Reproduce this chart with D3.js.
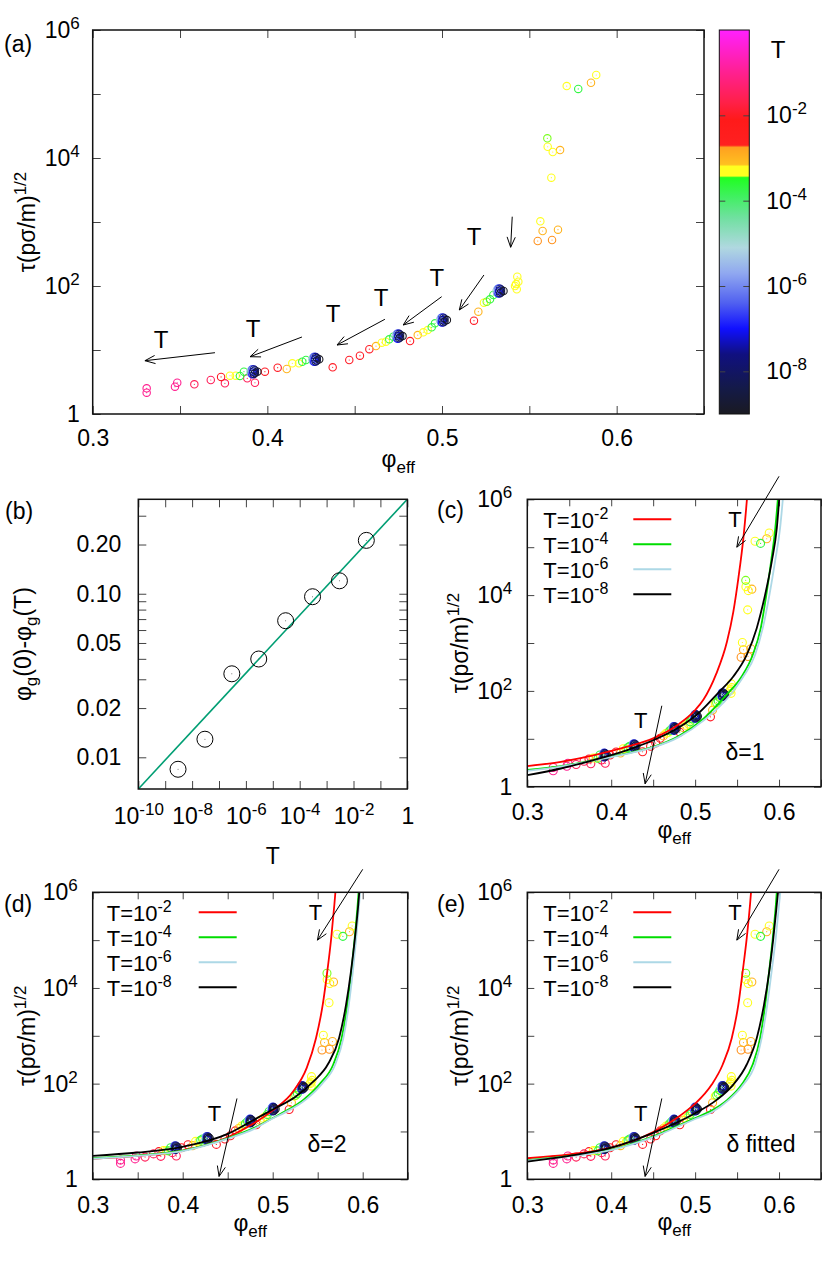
<!DOCTYPE html>
<html><head><meta charset="utf-8">
<script src="https://cdn.jsdelivr.net/npm/d3@7"></script>
<style>body{margin:0;background:#fff}</style>
</head><body><script>
// ---------------- DATA ----------------
// panel (a),(c),(d),(e): [phi_eff, tau, T]
const points = [
 [0.3309,2.52,0.1],[0.3309,2.15,0.1],[0.3471,2.67,0.1],[0.3484,3.08,0.1],[0.3582,2.91,0.03],
 [0.3676,3.40,0.03],[0.3735,3.79,0.01],[0.3757,3.02,0.03],[0.3786,3.97,5e-4],[0.3819,3.97,5e-4],
 [0.3843,3.93,2e-4],[0.3866,4.58,2e-4],[0.3885,3.61,0.03],[0.3929,3.08,0.03],[0.3986,4.58,0.01],
 [0.4059,5.29,0.01],[0.4111,5.05,1e-3],[0.4143,6.20,5e-4],[0.4181,6.20,5e-4],[0.4200,6.56,2e-4],
 [0.4221,6.98,2e-4],[0.4374,5.37,0.01],[0.4469,6.98,0.01],[0.4530,8.15,0.01],[0.4584,10.3,0.01],
 [0.4622,11.5,1e-3],[0.4655,13.0,5e-4],[0.4679,13.5,5e-4],[0.4698,14.7,2e-4],[0.4721,16.1,2e-4],
 [0.4817,13.8,0.01],[0.4861,17.1,1e-3],[0.4893,18.9,5e-4],[0.4918,20.5,5e-4],[0.4941,22.6,2e-4],
 [0.4960,26.1,2e-4],[0.5183,28.7,0.01],[0.5208,39.7,1e-3],[0.5240,54.8,5e-4],[0.5256,56.9,3.6e-4],
 [0.5275,62.0,2e-4],[0.5294,72.3,2e-4],[0.5418,100,5e-4],[0.5428,88.8,5e-4],[0.5424,107,5e-4],
 [0.5437,117,5e-4],[0.5431,140,5e-4],[0.5548,505,1.8e-3],[0.5630,523,1.8e-3],[0.5576,723,1e-3],
 [0.5664,758,1e-3],[0.5563,1025,5e-4],[0.5626,4920,5e-4],[0.5634,12400,5e-4],[0.5605,15000,5e-4],
 [0.5676,13300,1e-3],[0.5603,20300,3.6e-4],[0.5714,133000,5e-4],[0.5780,120000,2e-4],
 [0.5853,150000,1e-3],[0.5883,198000,5e-4],
 // low-T clusters
 [0.3903,4.58,1e-5],[0.3909,4.91,3e-6],[0.3909,4.27,1e-6],[0.3915,5.02,3e-7],[0.3915,4.18,1e-7],[0.3919,4.58,5e-8],
 [0.3923,4.96,3e-8],[0.3923,4.23,1e-8],[0.3929,4.80,5e-9],[0.3929,4.37,3e-9],[0.3943,4.58,1e-9],
 [0.4257,7.16,1e-5],[0.4263,7.68,3e-6],[0.4263,6.68,1e-6],[0.4269,7.85,3e-7],[0.4269,6.53,1e-7],[0.4273,7.16,5e-8],
 [0.4277,7.76,3e-8],[0.4277,6.61,1e-8],[0.4283,7.50,5e-9],[0.4283,6.84,3e-9],[0.4297,7.16,1e-9],
 [0.4734,16.5,1e-5],[0.4740,17.7,3e-6],[0.4740,15.4,1e-6],[0.4746,18.1,3e-7],[0.4746,15.0,1e-7],[0.4750,16.5,5e-8],
 [0.4754,17.9,3e-8],[0.4754,15.2,1e-8],[0.4760,17.3,5e-9],[0.4760,15.8,3e-9],[0.4774,16.5,1e-9],
 [0.4988,29.4,1e-5],[0.4994,31.5,3e-6],[0.4994,27.4,1e-6],[0.5000,32.2,3e-7],[0.5000,26.8,1e-7],[0.5004,29.4,5e-8],
 [0.5008,31.9,3e-8],[0.5008,27.1,1e-8],[0.5014,30.8,5e-9],[0.5014,28.1,3e-9],[0.5028,29.4,1e-9],
 [0.5312,83.6,1e-5],[0.5318,89.6,3e-6],[0.5318,78.0,1e-6],[0.5324,91.6,3e-7],[0.5324,76.2,1e-7],[0.5328,83.6,5e-8],
 [0.5332,90.6,3e-8],[0.5332,77.2,1e-8],[0.5338,87.5,5e-9],[0.5338,79.8,3e-9],[0.5352,83.6,1e-9]
];
// arrows in (a): [phi0, log10tau0, phi1, log10tau1, phiLabel, log10tauLabel]
const arrowsA = [
 [0.3700,0.958,0.3299,0.833,0.3391,1.156],
 [0.4198,1.203,0.3901,0.895,0.3918,1.328],
 [0.4673,1.480,0.4399,1.078,0.4376,1.563],
 [0.4998,1.833,0.4778,1.391,0.4651,1.813],
 [0.5240,2.172,0.5099,1.625,0.4970,2.125],
 [0.5402,3.083,0.5393,2.605,0.5183,2.770]
];
const arrowsFit = [
 [0.6000,6.48,0.5497,5.00,0.5476,5.58],
 [0.4603,1.69,0.4404,0.06,0.4352,1.38]
];
// fitted curves [phi, log10 tau]
const cRed=[[0.30,0.43],[0.34,0.52],[0.38,0.66],[0.42,0.84],[0.45,1.01],[0.48,1.30],[0.50,1.60],[0.51,1.82],[0.525,2.35],[0.538,3.03],[0.5455,3.65],[0.5515,4.35],[0.5575,5.19],[0.5615,5.95],[0.5635,6.4]];
const cGreen=[[0.30,0.35],[0.34,0.43],[0.38,0.56],[0.42,0.70],[0.45,0.83],[0.48,1.05],[0.51,1.42],[0.537,1.91],[0.5555,2.30],[0.5686,2.75],[0.5782,3.31],[0.5848,4.0],[0.5905,4.70],[0.5955,5.39],[0.5995,6.2]];
const cBlue=[[0.30,0.33],[0.34,0.42],[0.38,0.55],[0.42,0.69],[0.45,0.82],[0.48,1.03],[0.51,1.38],[0.5416,1.91],[0.5575,2.30],[0.5714,2.75],[0.5806,3.31],[0.5885,4.0],[0.5952,4.70],[0.6012,5.39],[0.6055,6.2]];
const cBlack=[[0.30,0.24],[0.34,0.38],[0.38,0.56],[0.42,0.77],[0.45,0.97],[0.48,1.23],[0.505,1.55],[0.527,1.95],[0.5455,2.30],[0.5615,2.75],[0.5734,3.31],[0.5833,4.0],[0.5913,4.70],[0.5973,5.39],[0.6010,6.2]];
const dRed=[[0.30,0.43],[0.35,0.49],[0.40,0.60],[0.45,0.88],[0.48,1.18],[0.50,1.44],[0.5229,1.84],[0.5378,2.33],[0.5481,2.95],[0.5556,3.65],[0.5607,4.35],[0.5650,5.04],[0.5685,5.74],[0.5710,6.3]];
const dGreen=[[0.30,0.44],[0.35,0.50],[0.40,0.60],[0.45,0.86],[0.48,1.08],[0.50,1.28],[0.5118,1.40],[0.534,1.66],[0.5526,2.0],[0.5673,2.40],[0.5766,2.95],[0.5829,3.65],[0.5874,4.35],[0.5911,5.04],[0.5944,5.74],[0.5966,6.3]];
const dBlue=[[0.30,0.43],[0.35,0.49],[0.40,0.59],[0.45,0.85],[0.48,1.06],[0.50,1.27],[0.514,1.40],[0.5365,1.66],[0.555,2.0],[0.5695,2.40],[0.5785,2.95],[0.5846,3.65],[0.5891,4.35],[0.5928,5.04],[0.596,5.74],[0.5982,6.3]];
const dBlack=[[0.30,0.49],[0.35,0.56],[0.40,0.68],[0.45,0.95],[0.475,1.20],[0.50,1.46],[0.525,1.72],[0.545,2.04],[0.5618,2.42],[0.5737,2.95],[0.5815,3.65],[0.587,4.35],[0.5914,5.04],[0.5951,5.74],[0.5975,6.3]];
const eRed=[[0.30,0.44],[0.35,0.52],[0.40,0.66],[0.45,0.99],[0.482,1.33],[0.50,1.58],[0.5198,1.98],[0.5329,2.40],[0.5436,2.95],[0.5515,3.65],[0.5567,4.35],[0.5615,5.04],[0.5654,5.74],[0.568,6.3]];
const eGreen=[[0.30,0.40],[0.35,0.49],[0.40,0.62],[0.45,0.90],[0.50,1.28],[0.5178,1.42],[0.5377,1.65],[0.5555,1.98],[0.5686,2.40],[0.5774,2.95],[0.5835,3.65],[0.5882,4.35],[0.5925,5.04],[0.5962,5.74],[0.5985,6.3]];
const eBlue=[[0.30,0.39],[0.35,0.48],[0.40,0.61],[0.45,0.88],[0.50,1.26],[0.5198,1.40],[0.5396,1.65],[0.5575,1.98],[0.5714,2.40],[0.5793,2.95],[0.586,3.65],[0.5912,4.35],[0.5961,5.04],[0.600,5.74],[0.6032,6.3]];
const eBlack=[[0.30,0.37],[0.35,0.49],[0.40,0.66],[0.45,0.97],[0.50,1.38],[0.5257,1.66],[0.5455,1.98],[0.5615,2.40],[0.5734,2.95],[0.5821,3.65],[0.5884,4.35],[0.5932,5.04],[0.5973,5.74],[0.6005,6.3]];
const legendExps=["-2","-4","-6","-8"];
const curveColors=["#ff0000","#00dd00","#add8e6","#000000"];
// panel (b)
const bT=[3e-9,3e-8,3e-7,3e-6,3e-5,3e-4,3e-3,3e-2];
const bDphi=[0.00845,0.0129,0.0324,0.0399,0.0684,0.0959,0.120,0.212];
const bFit=[[1e-10,0.0064],[1,0.378]];
const bXTicks=[1e-10,1e-9,1e-8,1e-7,1e-6,1e-5,1e-4,1e-3,1e-2,1e-1,1];
const bXLabels=[1e-10,1e-8,1e-6,1e-4,1e-2,1];
const bYTicks=[0.01,0.02,0.03,0.04,0.05,0.06,0.07,0.08,0.09,0.1,0.2,0.3];
const bYLabels=[0.01,0.02,0.05,0.1,0.2];
// axes
const phiTicks=[0.3,0.35,0.4,0.45,0.5,0.55,0.6,0.65];
const phiLabels=[0.3,0.4,0.5,0.6];
const tauTicks=[1,10,100,1000,1e4,1e5,1e6];
const tauLabels=[1,100,1e4,1e6];
const cbTicks=[1e-8,1e-6,1e-4,1e-2];
// colour map for T (log10 T -> colour)
const cmapLog=[-9,-8.4,-7.6,-7.0,-6.4,-5.7,-5.1,-4.4,-3.9,-3.46,-3.42,-3.2,-3.15,-2.75,-2.7,-2.1,-1.7,-1,0];
const cmapCol=["#1a1a22","#141a48","#101080","#1010ff","#5060f0","#90a8f0","#b0d8e0","#70e0a0","#40f060","#20ff20","#ffff20","#ffff20","#ffc020","#ffa020","#ff2020","#ff1a1a","#ff2048","#ff2090","#ff20ff"];

// ---------------- DRAW ----------------
const FF='"Liberation Sans", Arial, Helvetica, sans-serif';
const FS=23, SUP=17;
const colorT=d3.scaleLinear().domain(cmapLog).range(cmapCol).clamp(true);
const svg=d3.select("body").append("svg").attr("width",830).attr("height",1268)
  .attr("font-family",FF).style("background","#fff");
svg.append("rect").attr("width",830).attr("height",1268).attr("fill","#fff");
const defs=svg.append("defs");

function rich(parent, parts, x, y, fs, anchor, transform){
  const sfs=Math.round(fs*0.74);
  const t=parent.append("text").attr("x",x).attr("y",y).attr("font-size",fs)
    .attr("text-anchor",anchor||"start").attr("fill","#000");
  if(transform) t.attr("transform",transform);
  let cur=0;
  parts.forEach(([s,k])=>{
    const off = k==="sup" ? -Math.round(fs*0.4) : k==="sub" ? Math.round(fs*0.28) : 0;
    const sp=t.append("tspan").attr("font-size",k==="n"?fs:sfs).text(s);
    if(off-cur!==0) sp.attr("dy",off-cur);
    cur=off;
  });
  return t;
}
function styleAxis(g){
  g.select(".domain").remove();
  g.selectAll(".tick line").attr("stroke","#444").attr("stroke-width",1);
  g.selectAll(".tick text").attr("font-size",FS).attr("font-family",FF).attr("fill","#000");
  g.attr("font-size",FS).attr("font-family",FF);
}
function powText(sel, exps){
  sel.each(function(d){
    const t=d3.select(this); const e=exps(d); t.text(null);
    if(e===null) return;
    if(e==="1"){t.text("1");return;}
    t.append("tspan").text("10");
    t.append("tspan").attr("dy",-9).attr("font-size",SUP).text(e);
  });
}
function arrow(g,x1,y1,x2,y2){
  g.append("line").attr("x1",x1).attr("y1",y1).attr("x2",x2).attr("y2",y2).attr("stroke","#000").attr("stroke-width",1);
  const a=Math.atan2(y2-y1,x2-x1), L=11, w=0.38;
  [a+Math.PI-w,a+Math.PI+w].forEach(b=>{
    g.append("line").attr("x1",x2).attr("y1",y2).attr("x2",x2+L*Math.cos(b)).attr("y2",y2+L*Math.sin(b))
      .attr("stroke","#000").attr("stroke-width",1);
  });
}
function tauPanel(P){
  const g=svg.append("g");
  const x=d3.scaleLinear().domain([0.3,0.65]).range([P.l,P.r]);
  const y=d3.scaleLog().domain([1,1e6]).range([P.b,P.t]);
  const cid="clip"+P.name;
  defs.append("clipPath").attr("id",cid).append("rect").attr("x",P.l).attr("y",P.t).attr("width",P.r-P.l).attr("height",P.b-P.t);
  const phiFmt=d=>phiLabels.includes(d)?d.toFixed(1):"";
  g.append("g").attr("transform",`translate(0,${P.b})`)
    .call(d3.axisBottom(x).tickValues(phiTicks).tickSizeInner(-P.tk).tickSizeOuter(0).tickPadding(P.xpad).tickFormat(phiFmt)).call(styleAxis);
  g.append("g").attr("transform",`translate(0,${P.t})`)
    .call(d3.axisTop(x).tickValues(phiTicks).tickSizeInner(-P.tk).tickSizeOuter(0).tickFormat("")).call(styleAxis);
  const ly=g.append("g").attr("transform",`translate(${P.l},0)`)
    .call(d3.axisLeft(y).tickValues(tauTicks).tickSizeInner(-P.tk).tickSizeOuter(0).tickPadding(P.ypad).tickFormat(d=>String(d))).call(styleAxis);
  ly.selectAll(".tick text").call(powText, d=> d===1?"1": tauLabels.includes(d)?String(Math.round(Math.log10(d))):null);
  g.append("g").attr("transform",`translate(${P.r},0)`)
    .call(d3.axisRight(y).tickValues(tauTicks).tickSizeInner(-P.tk).tickSizeOuter(0).tickFormat("")).call(styleAxis);
  // points
  const pts=points.slice().sort((a,b)=>b[2]-a[2]);
  const pg=g.append("g").attr("clip-path",`url(#${cid})`);
  pg.selectAll("circle.p").data(pts).join("circle").attr("class","p")
    .attr("cx",d=>x(d[0])).attr("cy",d=>y(d[1])).attr("r",P.pr)
    .attr("fill","none").attr("stroke",d=>colorT(Math.log10(d[2]))).attr("stroke-width",1.1);
  pg.selectAll("circle.c").data(pts).join("circle").attr("class","c")
    .attr("cx",d=>x(d[0])).attr("cy",d=>y(d[1])).attr("r",0.6)
    .attr("fill",d=>colorT(Math.log10(d[2])));
  // curves
  if(P.curves){
    const line=d3.line().x(d=>x(d[0])).y(d=>y(Math.pow(10,d[1]))).curve(d3.curveMonotoneX);
    const cg=g.append("g").attr("clip-path",`url(#${cid})`);
    P.curves.forEach((c,i)=>{
      cg.append("path").datum(c).attr("d",line).attr("fill","none").attr("stroke",curveColors[i]).attr("stroke-width",1.8);
    });
    // legend
    legendExps.forEach((e,i)=>{
      const yy=P.t+20+25*i;
      rich(g,[["T=10","n"],[e,"sup"]],P.l+P.legX,yy+9,22,"start");
      g.append("line").attr("x1",P.l+106).attr("x2",P.l+144).attr("y1",yy).attr("y2",yy)
        .attr("stroke",curveColors[i]).attr("stroke-width",2);
    });
    arrowsFit.forEach(a=>{
      arrow(g,x(a[0]),y(Math.pow(10,a[1])),x(a[2]),y(Math.pow(10,a[3])));
      g.append("text").attr("x",x(a[4])).attr("y",y(Math.pow(10,a[5]))).attr("dy","0.35em")
        .attr("text-anchor","middle").attr("font-size",22).text("T");
    });
    svg.append("text").attr("x",P.dx).attr("y",P.b-27).attr("text-anchor","middle").attr("font-size",23).text(P.delta);
  }
  // frame
  g.append("rect").attr("x",P.l).attr("y",P.t).attr("width",P.r-P.l).attr("height",P.b-P.t)
    .attr("fill","none").attr("stroke","#111").attr("stroke-width",1.5);
  // labels
  rich(svg,[["τ(pσ/m)","n"],["1/2","sup"]],0,0,23,"middle",`translate(${P.l-P.ylab},${(P.t+P.b)/2}) rotate(-90)`);
  rich(svg,[["φ","n"],["eff","sub"]],(P.l+P.r)/2,P.b+P.xlab,23,"middle");
  svg.append("text").attr("x",P.tagX).attr("y",P.t+P.tagDY).attr("font-size",23).text(P.tag);
  return {g,x,y};
}

// (a)
const pa=tauPanel({name:"a",l:92.7,r:704,t:30,b:414,tk:8,xpad:16,ypad:13,pr:3.7,ylab:58,xlab:53,tag:"(a)",tagX:4,tagDY:22});
arrowsA.forEach(a=>{
  arrow(pa.g,pa.x(a[0]),pa.y(Math.pow(10,a[1])),pa.x(a[2]),pa.y(Math.pow(10,a[3])));
  pa.g.append("text").attr("x",pa.x(a[4])).attr("y",pa.y(Math.pow(10,a[5]))).attr("dy","0.35em")
    .attr("text-anchor","middle").attr("font-size",24).text("T");
});
// colorbar
{
  const CB={l:719.3,r:749.3,t:30,b:414};
  const cb=d3.scaleLog().domain([1e-9,1]).range([CB.b,CB.t]);
  const grad=defs.append("linearGradient").attr("id","cbgrad").attr("x1",0).attr("y1",1).attr("x2",0).attr("y2",0);
  cmapLog.forEach((v,i)=>grad.append("stop").attr("offset",(v+9)/9).attr("stop-color",cmapCol[i]));
  svg.append("rect").attr("x",CB.l).attr("y",CB.t).attr("width",CB.r-CB.l).attr("height",CB.b-CB.t).attr("fill","url(#cbgrad)");
  const ra=svg.append("g").attr("transform",`translate(${CB.r},0)`)
    .call(d3.axisRight(cb).tickValues(cbTicks).tickSizeInner(-6).tickSizeOuter(0).tickPadding(17).tickFormat(d=>String(d))).call(styleAxis);
  ra.selectAll(".tick text").call(powText,d=>String(Math.round(Math.log10(d))));
  svg.append("g").attr("transform",`translate(${CB.l},0)`)
    .call(d3.axisLeft(cb).tickValues(cbTicks).tickSizeInner(-6).tickSizeOuter(0).tickFormat("")).call(styleAxis);
  svg.append("rect").attr("x",CB.l).attr("y",CB.t).attr("width",CB.r-CB.l).attr("height",CB.b-CB.t)
    .attr("fill","none").attr("stroke","#111").attr("stroke-width",1);
  svg.append("text").attr("x",778).attr("y",58).attr("text-anchor","middle").attr("font-size",24).text("T");
}
// (b)
{
  const B={l:138.3,r:407.3,t:499.3,b:789};
  const g=svg.append("g");
  const x=d3.scaleLog().domain([1e-10,1]).range([B.l,B.r]);
  const y=d3.scaleLog().domain([0.0064,0.378]).range([B.b,B.t]);
  defs.append("clipPath").attr("id","clipb").append("rect").attr("x",B.l).attr("y",B.t).attr("width",B.r-B.l).attr("height",B.b-B.t);
  const bx=g.append("g").attr("transform",`translate(0,${B.b})`)
    .call(d3.axisBottom(x).tickValues(bXTicks).tickSizeInner(-8).tickSizeOuter(0).tickPadding(19).tickFormat(d=>String(d))).call(styleAxis);
  bx.selectAll(".tick text").call(powText,d=>{ if(!bXLabels.includes(d)) return null; const e=Math.round(Math.log10(d)); return e===0?"1":String(e);});
  g.append("g").attr("transform",`translate(0,${B.t})`)
    .call(d3.axisTop(x).tickValues(bXTicks).tickSizeInner(-8).tickSizeOuter(0).tickFormat("")).call(styleAxis);
  g.append("g").attr("transform",`translate(${B.l},0)`)
    .call(d3.axisLeft(y).tickValues(bYTicks).tickSizeInner(-8).tickSizeOuter(0).tickPadding(17).tickFormat(d=>bYLabels.includes(d)?d.toFixed(2):"")).call(styleAxis);
  g.append("g").attr("transform",`translate(${B.r},0)`)
    .call(d3.axisRight(y).tickValues(bYTicks).tickSizeInner(-8).tickSizeOuter(0).tickFormat("")).call(styleAxis);
  g.append("path").datum(bFit).attr("clip-path","url(#clipb)")
    .attr("d",d3.line().x(d=>x(d[0])).y(d=>y(d[1]))).attr("fill","none").attr("stroke","#009e73").attr("stroke-width",1.6);
  const bd=bT.map((t,i)=>[t,bDphi[i]]);
  g.selectAll("circle.b").data(bd).join("circle").attr("cx",d=>x(d[0])).attr("cy",d=>y(d[1])).attr("r",8)
    .attr("fill","none").attr("stroke","#000").attr("stroke-width",1);
  g.selectAll("circle.bd").data(bd).join("circle").attr("cx",d=>x(d[0])).attr("cy",d=>y(d[1])).attr("r",0.5).attr("fill","#555");
  g.append("rect").attr("x",B.l).attr("y",B.t).attr("width",B.r-B.l).attr("height",B.b-B.t)
    .attr("fill","none").attr("stroke","#111").attr("stroke-width",1.5);
  rich(svg,[["φ","n"],["g","sub"],["(0)-φ","n"],["g","sub"],["(T)","n"]],0,0,23,"middle",`translate(31,${(B.t+B.b)/2}) rotate(-90)`);
  svg.append("text").attr("x",(B.l+B.r)/2).attr("y",864).attr("text-anchor","middle").attr("font-size",23).text("T");
  svg.append("text").attr("x",5).attr("y",519).attr("font-size",23).text("(b)");
}
// (c),(d),(e)
tauPanel({name:"c",l:527.3,r:821,t:499.3,b:786.7,tk:7,xpad:17,ypad:15,pr:4,ylab:59,xlab:51,tag:"(c)",tagX:437,tagDY:19,
  curves:[cRed,cGreen,cBlue,cBlack],legX:16,dx:745,delta:"δ=1"});
tauPanel({name:"d",l:92.7,r:407.7,t:892.3,b:1179.3,tk:7,xpad:17,ypad:15,pr:4,ylab:58,xlab:52,tag:"(d)",tagX:4,tagDY:20,
  curves:[dRed,dGreen,dBlue,dBlack],legX:14,dx:327,delta:"δ=2"});
tauPanel({name:"e",l:527.3,r:821,t:892.3,b:1179.3,tk:7,xpad:17,ypad:15,pr:4,ylab:59,xlab:51,tag:"(e)",tagX:437,tagDY:20,
  curves:[eRed,eGreen,eBlue,eBlack],legX:16,dx:761,delta:"δ fitted"});
</script></body></html>
